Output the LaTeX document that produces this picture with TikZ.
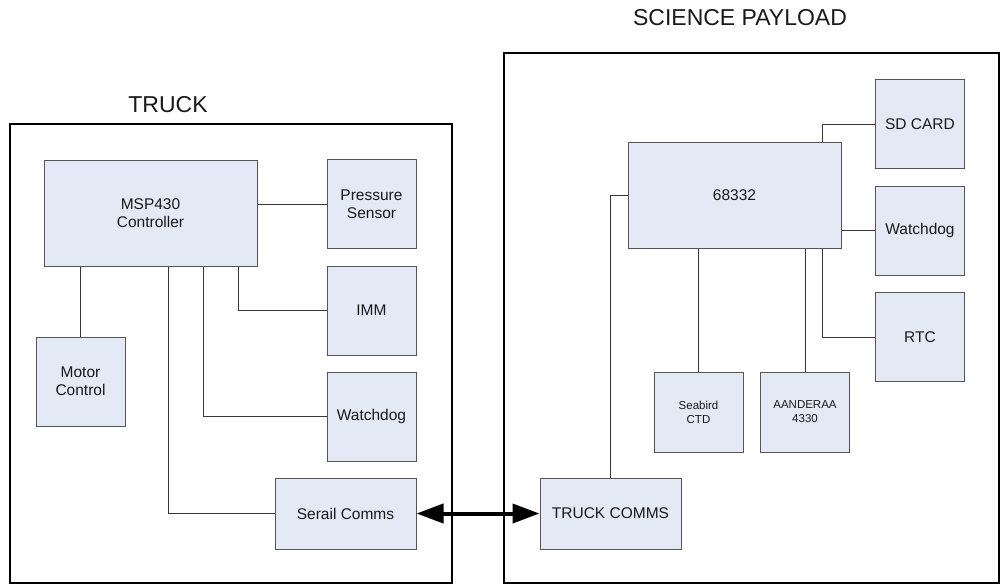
\documentclass[tikz,border=0pt]{standalone}
\usepackage{fontspec}
\setmainfont{Liberation Sans}
\usepackage{tikz}
\usetikzlibrary{arrows.meta,positioning}

\definecolor{boxfill}{RGB}{227,233,245}
\definecolor{boxline}{RGB}{85,85,85}
\definecolor{wire}{RGB}{55,55,55}
\definecolor{ink}{RGB}{25,25,25}

\tikzset{
  block/.style={draw=boxline, fill=boxfill, line width=1pt, inner sep=0pt,
    minimum width=89pt, minimum height=89pt, align=center, text=ink,
    font=\fontsize{15.5}{18}\selectfont},
  smallblock/.style={block, minimum height=80pt, font=\fontsize{11.5}{14}\selectfont},
  frame/.style={draw=black, line width=1.2pt, inner sep=0pt},
  title/.style={font=\fontsize{23}{26}\selectfont, inner sep=0pt, text=ink},
  link/.style={draw=wire, line width=0.9pt},
  bus/.style={line width=4pt, {Triangle[length=27pt,width=19pt]}-{Triangle[length=27pt,width=19pt]}}
}

\begin{document}
\begin{tikzpicture}[x=1pt,y=-1pt,on grid]
           \useasboundingbox (0,0) rectangle (1002,584);
           % outer boxes
           \node[frame, minimum width=442pt, minimum height=459pt] (truck) at (231,353.5) {};
           \node[frame, minimum width=495pt, minimum height=530pt] (payload) at (751.5,318) {};
           \node[title] (trucktitle) at (168,105) {TRUCK};
           \node[title] (payloadtitle) at (740,18) {SCIENCE PAYLOAD};

           % truck side
           \node[block, minimum width=213pt, minimum height=106pt] (msp) at (150.5,213) {MSP430\\Controller};
           \node[block] (press) [above right=9pt and 221pt of msp] {Pressure\\Sensor};
           \node[block] (imm) [below=106.5pt of press] {IMM};
           \node[block] (wdogl) [below=106pt of imm] {Watchdog};
           \node[block, minimum width=141pt, minimum height=71pt] (serial) [below left=97pt and 26pt of wdogl] {Serail Comms};
           \node[block] (motor) [below left=168.5pt and 70pt of msp] {Motor\\Control};

           % payload side
           \node[block, minimum width=213pt, minimum height=106pt] (cpu) at (734.5,195) {68332};
           \node[block] (sd) [above right=71pt and 185.5pt of cpu] {SD CARD};
           \node[block] (wdogr) [below=106.5pt of sd] {Watchdog};
           \node[block] (rtc) [below=106.5pt of wdogr] {RTC};
           \node[smallblock] (ctd) [below left=217pt and 36pt of cpu] {Seabird\\CTD};
           \node[smallblock] (aand) [right=106.5pt of ctd] {AANDERAA\\4330};
           \node[block, minimum width=141pt, minimum height=71pt] (tcomms) [below left=101.5pt and 88pt of ctd] {TRUCK COMMS};

           \path[link]
            (press.west) -- (press.west -| msp.east)
            (motor.north) -- (motor.north |- msp.south)
            (imm.west) -| ([xshift=195pt]msp.south west)
            (wdogl.west) -| ([xshift=160pt]msp.south west)
            (serial.west) -| ([xshift=125pt]msp.south west)
            ([xshift=-19pt]cpu.north east) |- (sd.west)
            (wdogr.west) -- (wdogr.west -| cpu.east)
            ([xshift=-19pt]cpu.south east) |- (rtc.west)
            (ctd.north) -- (ctd.north |- cpu.south)
            (aand.north) -- (aand.north |- cpu.south)
            (tcomms.north) |- (cpu.west);

           \draw[bus] (serial.east) -- (tcomms.west);
        \end{tikzpicture}
\end{document}
